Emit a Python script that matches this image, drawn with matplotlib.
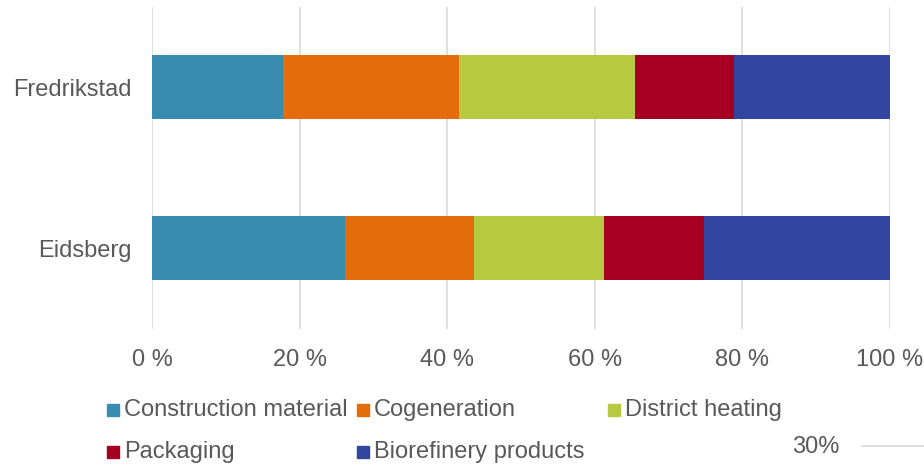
import matplotlib
matplotlib.use("Agg")
import matplotlib.pyplot as plt
from matplotlib.patches import Rectangle
from matplotlib.lines import Line2D

plt.rcParams['font.family'] = ['Liberation Sans', 'DejaVu Sans']

locations = ["Eidsberg", "Fredrikstad"]
series = ["Construction material", "Cogeneration", "District heating",
          "Packaging", "Biorefinery products"]
construction = [26.2, 17.7]
cogeneration = [17.4, 23.9]
district_heating = [17.6, 23.9]
packaging = [13.6, 13.3]
biorefinery = [25.2, 21.2]
colors = ["#378CAF", "#E46C0A", "#B7C941", "#A50021", "#3246A0"]
xticks = [0, 20, 40, 60, 80, 100]
xticklabels = ["0 %", "20 %", "40 %", "60 %", "80 %", "100 %"]

values = [construction, cogeneration, district_heating, packaging, biorefinery]
grey = "#595959"
fs = 17

fig = plt.figure(figsize=(9.24, 4.66), dpi=100)
ax = fig.add_axes([152/924, 1-328.5/466, (890-152)/924, 322/466])

left = [0.0] * len(locations)
for vals, col, name in zip(values, colors, series):
    ax.barh(range(len(locations)), vals, left=left, height=0.4, color=col,
            linewidth=0, label=name, zorder=3)
    left = [l + v for l, v in zip(left, vals)]

ax.set_xlim(0, 100)
ax.set_ylim(-0.5, 1.5)
ax.set_yticks(range(len(locations)))
ax.set_yticklabels(locations, fontsize=fs, color=grey)
ax.set_xticks(xticks)
ax.set_xticklabels(xticklabels, fontsize=fs, color=grey)
ax.tick_params(axis='both', length=0)
ax.tick_params(axis='y', pad=15)
ax.tick_params(axis='x', pad=15)
ax.grid(axis='x', color="#D9D9D9", linewidth=1.2, zorder=0)
for s in ax.spines.values():
    s.set_visible(False)

# legend laid out like the source (fixed column grid)
W, H = 924, 466
positions = [(107, 410), (357, 410), (608, 410), (107, 452), (357, 452)]
for (px, py), col, name in zip(positions, colors, series):
    fig.patches.append(Rectangle((px/W, 1-(py+6)/H), 12/W, 12/H,
                                 transform=fig.transFigure, color=col))
    fig.text((px+17)/W, 1-py/H, name, fontsize=fs, color=grey,
             va='center', ha='left')

fig.text(816/W, 1-447/H, "30%", fontsize=fs, color=grey, va='center', ha='center')
fig.lines.append(Line2D([862/W, 1.0], [1-446/H, 1-446/H], transform=fig.transFigure,
                        color="#D9D9D9", linewidth=1.2))

fig.savefig("out.png", dpi=100)
